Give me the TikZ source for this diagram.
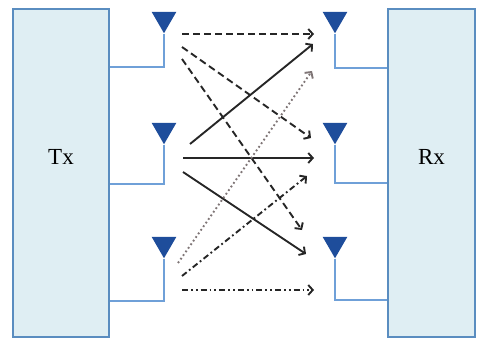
\documentclass[tikz,border=0pt]{standalone}
\usepackage{fontspec}
\setmainfont{Liberation Serif}
\usetikzlibrary{arrows.meta,shapes.geometric}
\definecolor{boxfill}{HTML}{DFEEF3}
\definecolor{boxline}{HTML}{5A8DC0}
\definecolor{feedline}{HTML}{6FA0D8}
\definecolor{antfill}{HTML}{1E4D9B}
\definecolor{arrcol}{HTML}{262626}
\definecolor{dotcol}{HTML}{7F7576}
\begin{document}
\begin{tikzpicture}[x=1pt,y=-1pt,
  unit/.style={draw=boxline,fill=boxfill,line width=2pt,minimum height=328pt,inner sep=0pt},
  lbl/.style={font=\fontsize{23}{23}\selectfont,text=black},
  antenna/.style={regular polygon,regular polygon sides=3,shape border rotate=180,fill=antfill,minimum size=28.5pt,inner sep=0pt},
  feed/.style={draw=feedline,line width=1.6pt},
  sig/.style={draw=arrcol,line width=1.9pt,-{Straight Barb[length=4.5pt,width=10pt,line width=1.9pt]}},
  sdash/.style={sig,dash pattern=on 7pt off 4pt},
  sdot/.style={sig,draw=dotcol,dash pattern=on 1.8pt off 2.6pt},
  sdashdot/.style={sig,dash pattern=on 6pt off 3pt on 1.8pt off 3pt},
  sdashdotdot/.style={sig,dash pattern=on 6pt off 3pt on 1.8pt off 3pt on 1.8pt off 3pt}]
\useasboundingbox (0,0) rectangle (478,339);
\node[unit,minimum width=96pt,label={[lbl,anchor=center,yshift=16pt]center:Tx}] (tx) at (61,173) {};
\node[unit,minimum width=87pt,label={[lbl,anchor=center,yshift=16pt]center:Rx}] (rx) at (431.5,173) {};
% antennas
\node[antenna] (t1) at (164,19) {};
\node[antenna] (t2) at (164,130) {};
\node[antenna] (t3) at (164,244) {};
\node[antenna] (r1) at (335,19) {};
\node[antenna] (r2) at (335,130) {};
\node[antenna] (r3) at (335,244) {};
% feed points
\coordinate (tf1) at (tx.east |- 0,67);
\coordinate (tf2) at (tx.east |- 0,184);
\coordinate (tf3) at (tx.east |- 0,301);
\coordinate (rf1) at (rx.west |- 0,68);
\coordinate (rf2) at (rx.west |- 0,183);
\coordinate (rf3) at (rx.west |- 0,300);
\foreach \a/\f in {t1/tf1,t2/tf2,t3/tf3,r1/rf1,r2/rf2,r3/rf3}
  \draw[feed] (\a) -- (\a |- \f) -- (\f);
% signal end points
\coordinate (s1a) at (182,34);  \coordinate (e1a) at (314,34);
\coordinate (s1b) at (182,47);  \coordinate (e1b) at (311,138);
\coordinate (s1c) at (182,59);  \coordinate (e1c) at (302,230);
\coordinate (s2a) at (190,144); \coordinate (e2a) at (313,44);
\coordinate (s2b) at (183,158); \coordinate (e2b) at (314,158);
\coordinate (s2c) at (183,172); \coordinate (e2c) at (306,254);
\coordinate (s3a) at (178,263); \coordinate (e3a) at (312,71);
\coordinate (s3b) at (182,276); \coordinate (e3b) at (307,176);
\coordinate (s3c) at (182,290); \coordinate (e3c) at (314,290);
\draw[sdash] (s1a) -- (e1a);
\draw[sdash] (s1b) -- (e1b);
\draw[sdash] (s1c) -- (e1c);
\draw[sig] (s2a) -- (e2a);
\draw[sig] (s2b) -- (e2b);
\draw[sig] (s2c) -- (e2c);
\draw[sdot] (s3a) -- (e3a);
\draw[sdashdot] (s3b) -- (e3b);
\draw[sdashdotdot] (s3c) -- (e3c);
\end{tikzpicture}
\end{document}
